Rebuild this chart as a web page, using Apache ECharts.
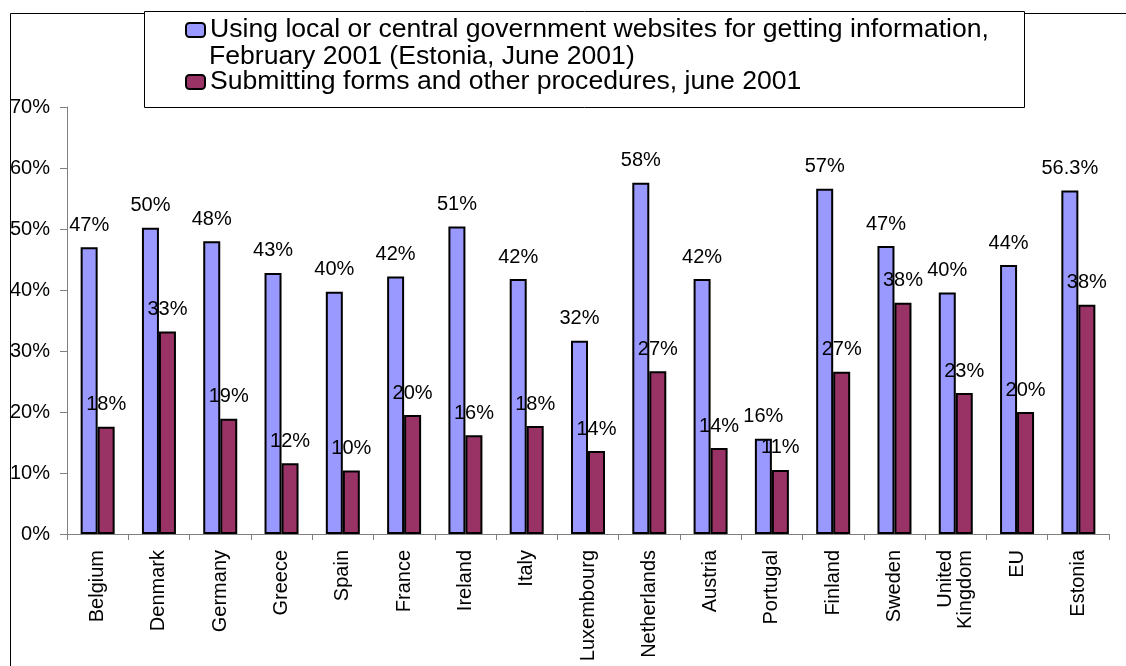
<!DOCTYPE html>
<html>
<head>
<meta charset="utf-8">
<script src="https://cdn.jsdelivr.net/npm/echarts@6/dist/echarts.min.js"></script>
<style>
  html, body { margin: 0; padding: 0; background: #fff; }
  #chart { width: 1126px; height: 666px; }
</style>
</head>
<body>
<div id="chart"></div>
<script>
  // values (percent)
  var countries = ['Belgium', 'Denmark', 'Germany', 'Greece', 'Spain', 'France', 'Ireland', 'Italy',
    'Luxembourg', 'Netherlands', 'Austria', 'Portugal', 'Finland', 'Sweden', 'United\nKingdom', 'EU', 'Estonia'];
  var infoValues = [47.0, 50.2, 48.0, 42.8, 39.7, 42.2, 50.4, 41.8, 31.7, 57.6, 41.8, 15.6, 56.6, 47.2, 39.6, 44.1, 56.3];
  var infoLabels = ['47%', '50%', '48%', '43%', '40%', '42%', '51%', '42%', '32%', '58%', '42%', '16%', '57%', '47%', '40%', '44%', '56.3%'];
  var formsValues = [17.6, 33.2, 18.9, 11.6, 10.4, 19.5, 16.2, 17.7, 13.6, 26.7, 14.1, 10.5, 26.6, 37.9, 23.1, 20.0, 37.6];
  var formsLabels = ['18%', '33%', '19%', '12%', '10%', '20%', '16%', '18%', '14%', '27%', '14%', '11%', '27%', '38%', '23%', '20%', '38%'];
  var yTicks = [0, 10, 20, 30, 40, 50, 60, 70];

  var infoName = 'Using local or central government websites for getting information,\nFebruary 2001 (Estonia, June 2001)';
  var formsName = 'Submitting forms and other procedures, june 2001';
  var infoLines = infoName.split('\n');

  var font = '"Liberation Sans", Arial, sans-serif';
  var legendFont = 26.6;
  var chart = echarts.init(document.getElementById('chart'));

  chart.setOption({
    animation: false,
    textStyle: { fontFamily: font },
    graphic: [
      // outer chart frame
      { type: 'rect', left: 8, top: 11, z: -1,
        shape: { width: 1200, height: 700 },
        style: { fill: null, stroke: '#000', lineWidth: 1 } },
      // legend frame
      { type: 'rect', left: 144, top: 11, z: -1,
        shape: { width: 880, height: 96 },
        style: { fill: '#fff', stroke: '#000', lineWidth: 1 } },
      // second line of the first legend entry (sits under the first line, no icon)
      { type: 'text', x: 209, y: 57, z: 10,
        style: { text: infoLines[1], fontSize: legendFont, fontFamily: font, fill: '#000', verticalAlign: 'middle' } }
    ],
    legend: {
      orient: 'vertical',
      left: 185,
      top: 15,
      padding: 0,
      itemWidth: 19,
      itemHeight: 14,
      itemGap: 22,
      textStyle: { fontSize: legendFont, lineHeight: 30, color: '#000', fontFamily: font },
      formatter: function (name) { return name.split('\n')[0]; },
      data: [infoName, formsName]
    },
    grid: { left: 67, right: 17, top: 107, bottom: 132 },
    xAxis: {
      type: 'category',
      data: countries,
      axisLine: { lineStyle: { color: '#808080', width: 1 } },
      axisTick: { show: true, length: 6, interval: 0, lineStyle: { color: '#808080' } },
      axisLabel: { interval: 0, rotate: 90, margin: 16, fontSize: 20, color: '#000', fontFamily: font }
    },
    yAxis: {
      type: 'value',
      min: yTicks[0],
      max: yTicks[yTicks.length - 1],
      interval: 10,
      splitLine: { show: false },
      axisLine: { show: true, lineStyle: { color: '#808080', width: 1 } },
      axisTick: { show: true, length: 7, lineStyle: { color: '#808080' } },
      axisLabel: { formatter: '{value}%', margin: 17, fontSize: 20, color: '#000', fontFamily: font }
    },
    series: [
      {
        name: infoName,
        type: 'bar',
        data: infoValues,
        barWidth: 17,
        barGap: '0%',
        itemStyle: { color: '#9999FF', borderColor: '#000', borderWidth: 2 },
        label: {
          show: true, position: 'top', distance: 12, fontSize: 20, color: '#000', fontFamily: font,
          formatter: function (p) { return infoLabels[p.dataIndex]; }
        }
      },
      {
        name: formsName,
        type: 'bar',
        data: formsValues,
        barWidth: 17,
        barGap: '0%',
        itemStyle: { color: '#993366', borderColor: '#000', borderWidth: 2 },
        label: {
          show: true, position: 'top', distance: 12, fontSize: 20, color: '#000', fontFamily: font,
          formatter: function (p) { return formsLabels[p.dataIndex]; }
        }
      }
    ]
  });
</script>
</body>
</html>
